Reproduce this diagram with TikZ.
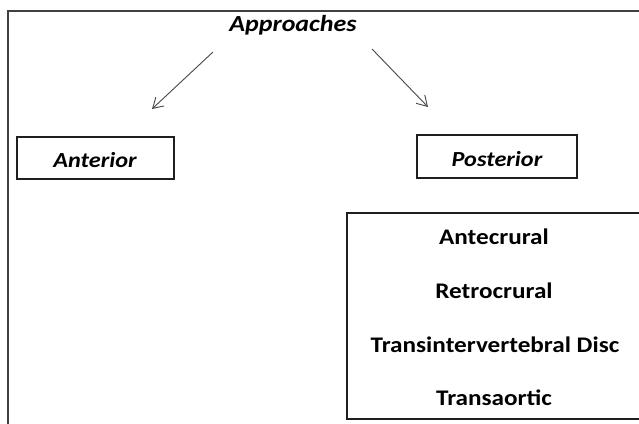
\documentclass[tikz,border=0pt]{standalone}
\usepackage{fontspec}
\setmainfont{Carlito}[FakeStretch=1.13]
\usetikzlibrary{arrows.meta}
\begin{document}
\begin{tikzpicture}[x=1pt,y=-1pt,
  frame/.style={draw=black!75, line width=1.4pt},
  box/.style={draw=black!88, line width=1.3pt, inner sep=0pt},
  lbl/.style={font=\fontsize{22.3}{26}\selectfont\bfseries, anchor=base, inner sep=0pt},
  hd/.style={font=\fontsize{21.5}{25}\selectfont\bfseries\itshape, anchor=base, inner sep=0pt},
  arr/.style={draw=black!72, line width=0.9pt, -{Straight Barb[length=10pt,width=12pt]}}]
\useasboundingbox (0,0) rectangle (639,423);
\fill[white] (0,0) rectangle (639,423);
\clip (0,0) rectangle (639,423);
\draw[frame] (8,425) -- (8,11) -- (641,11);
\node[hd, font=\fontsize{23}{27}\selectfont\bfseries\itshape] (app) at (293,31.3) {Approaches};
\node[box, minimum width=157pt, minimum height=42pt] (ant) at (95.5,158) {};
\node[hd] (antt) at (95,167.3) {Anterior};
\node[box, minimum width=160pt, minimum height=43pt] (post) at (497,156.5) {};
\node[hd] (postt) at (497,166.5) {Posterior};
\node[box, minimum width=303pt, minimum height=206pt] (list) at (498.5,316) {};
\node[lbl] (t1) at (494,244.7) {Antecrural};
\node[lbl] (t2) at (494,298.7) {Retrocrural};
\node[lbl] (t3) at (495,352.5) {Transintervertebral Disc};
\node[lbl] (t4) at (494,405.5) {Transaortic};
\coordinate (l1) at (213,52);
\coordinate (l2) at (152,109);
\coordinate (r1) at (372,49);
\coordinate (r2) at (428,107);
\draw[arr] (l1) -- (l2);
\draw[arr] (r1) -- (r2);
\end{tikzpicture}
\end{document}
